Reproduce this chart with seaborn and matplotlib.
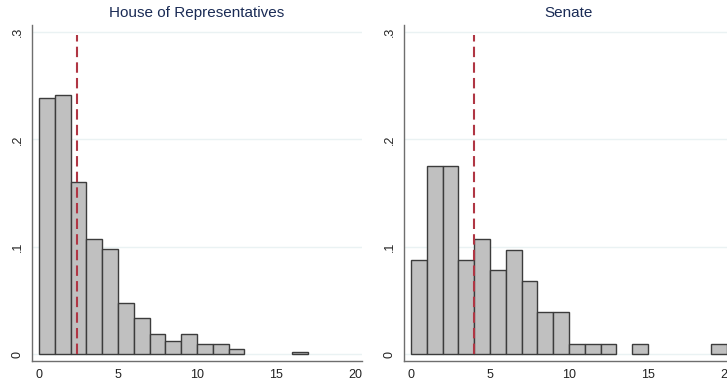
import numpy as np
import pandas as pd
import matplotlib
matplotlib.use("Agg")
import matplotlib.pyplot as plt
import seaborn as sns

# bin left edges (width 1) and density per bin
house_bins = [0, 1, 2, 3, 4, 5, 6, 7, 8, 9, 10, 11, 12, 16]
house_density = [0.239, 0.241, 0.160, 0.107, 0.098, 0.048, 0.034,
                 0.019, 0.012, 0.019, 0.0093, 0.0093, 0.0047, 0.0023]
house_mean = 2.38

senate_bins = [0, 1, 2, 3, 4, 5, 6, 7, 8, 9, 10, 11, 12, 14, 19]
senate_density = [0.088, 0.175, 0.175, 0.088, 0.107, 0.078, 0.097,
                  0.068, 0.039, 0.039, 0.0098, 0.0098, 0.0098, 0.0098, 0.0098]
senate_mean = 4.0

titles = ["House of Representatives", "Senate"]
xticks = [0, 5, 10, 15, 20]
yticks = [0, 0.1, 0.2, 0.3]
ytick_labels = ["0", ".1", ".2", ".3"]

sns.set_style("white")
plt.rcParams["font.family"] = ["Liberation Sans", "DejaVu Sans"]

BAR = "#c0c0c0"
EDGE = "#3c3c3c"
MEAN = "#b03644"
GRID = "#eaf2f3"
TITLE = "#1a2b55"
AXIS = "#6e6e6e"

fig = plt.figure(figsize=(7.27, 3.8), dpi=100)
ax1 = fig.add_axes([32 / 727, 19 / 380, 330 / 727, 336 / 380])
ax2 = fig.add_axes([404 / 727, 19 / 380, 330 / 727, 336 / 380])

panels = [
    (ax1, house_bins, house_density, house_mean),
    (ax2, senate_bins, senate_density, senate_mean),
]

for (ax, bins, dens, mean), title in zip(panels, titles):
    df = pd.DataFrame({"x": np.array(bins) + 0.5, "w": dens})
    for y in yticks:
        ax.axhline(y, color=GRID, lw=1, zorder=0)
    sns.histplot(data=df, x="x", weights="w", bins=list(range(21)),
                 stat="count", color=BAR, edgecolor=EDGE, linewidth=1,
                 alpha=1, ax=ax)
    for p in ax.patches:
        p.set_zorder(2)
        if p.get_height() == 0:
            p.set_visible(False)
    ax.plot([mean, mean], [0, 0.297], color=MEAN, lw=1.5,
            ls=(0, (5, 2.5)), zorder=3)

    ax.set_xlim(-0.44, 20.44)
    ax.set_ylim(-0.0065, 0.3066)
    ax.set_xticks(xticks)
    ax.set_yticks(yticks)
    ax.set_yticklabels(ytick_labels, rotation=90, va="center")
    ax.set_xlabel("")
    ax.set_ylabel("")
    ax.set_title(title, fontsize=11, color=TITLE, pad=6)
    sns.despine(ax=ax)
    for s in ["left", "bottom"]:
        ax.spines[s].set_color(AXIS)
        ax.spines[s].set_linewidth(1)
    ax.tick_params(axis="both", direction="out", length=4, width=1,
                   color=AXIS, labelsize=9, pad=2, labelcolor="#222222")

fig.savefig("out.png", dpi=100)
